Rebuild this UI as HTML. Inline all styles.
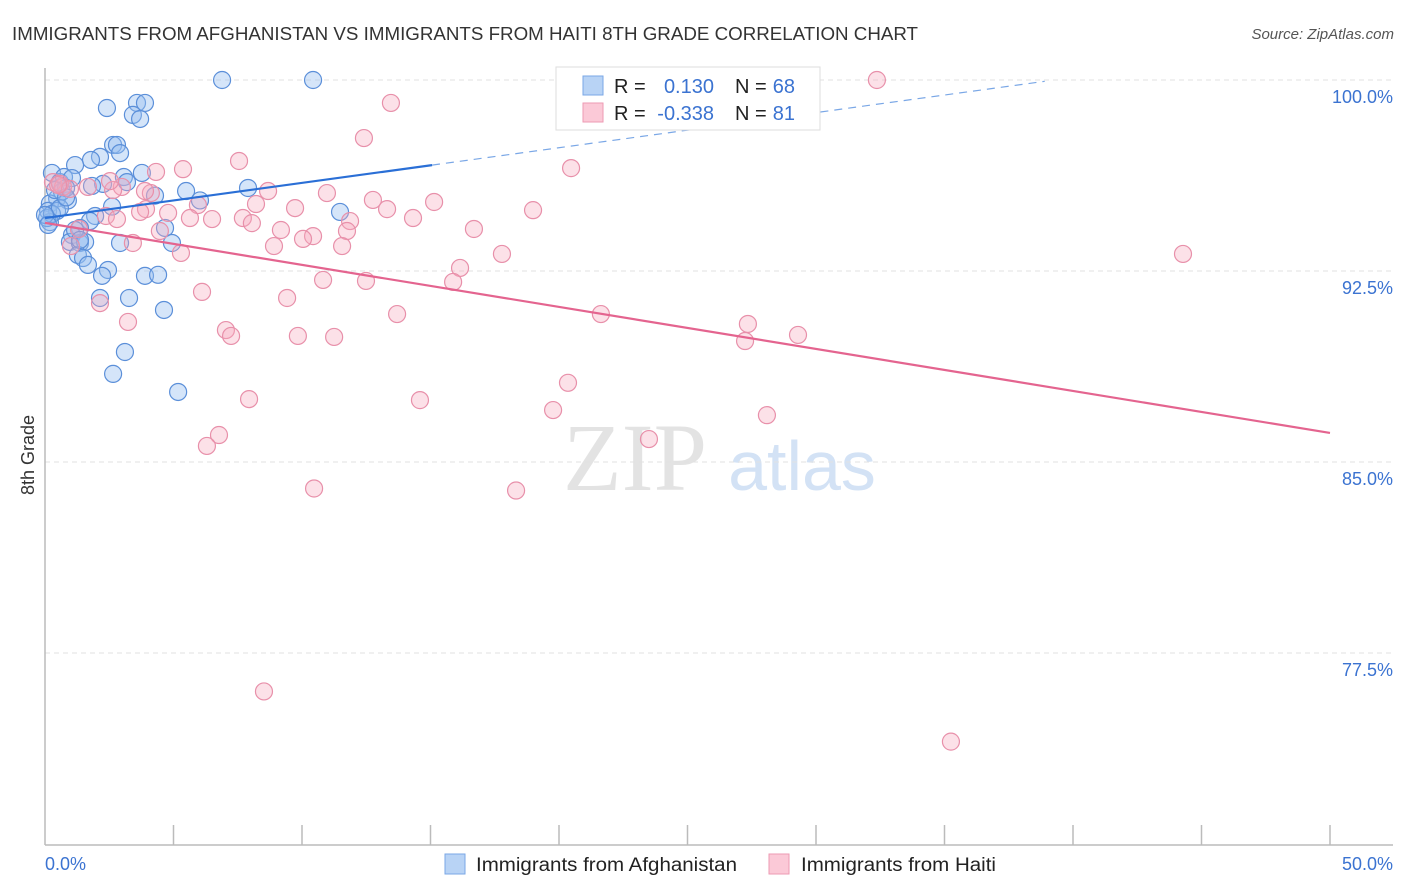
<!DOCTYPE html>
<html><head><meta charset="utf-8"><style>
body{margin:0;background:#fff;font-family:"Liberation Sans",sans-serif}
#wrap{position:relative;width:1406px;height:892px;overflow:hidden}
</style></head><body>
<div id="wrap">
<svg id="svg" width="1406" height="892" xmlns="http://www.w3.org/2000/svg">
<text x="12" y="40" font-size="18" fill="#333" textLength="906" lengthAdjust="spacingAndGlyphs">IMMIGRANTS FROM AFGHANISTAN VS IMMIGRANTS FROM HAITI 8TH GRADE CORRELATION CHART</text>
<text x="1394" y="39" font-size="15" fill="#555" text-anchor="end" font-style="italic">Source: ZipAtlas.com</text>
<text x="34" y="455" font-size="18" fill="#333" text-anchor="middle" transform="rotate(-90 34 455)">8th Grade</text>
<g><text x="635" y="490" font-size="96" fill="#ddd" text-anchor="middle" font-family="Liberation Serif,serif" opacity="0.8">ZIP</text><text x="802" y="490" font-size="70" fill="#c9dcf3" text-anchor="middle" opacity="0.8">atlas</text></g>
<g id="grid"></g><g id="axes"></g><g id="pts"></g><g id="lines"></g>
<g>
<rect x="556" y="67" width="264" height="63" fill="#fff" stroke="#ddd"/>
<rect x="583" y="76" width="20" height="19" fill="#b8d3f5" stroke="#7aa7e6"/>
<rect x="583" y="103" width="20" height="19" fill="#fbc9d7" stroke="#ee9ab3"/>
<text x="614" y="93" font-size="20" fill="#222">R =</text>
<text x="714" y="93" font-size="20" fill="#3b73d1" text-anchor="end">0.130</text>
<text x="735" y="93" font-size="20" fill="#222">N =</text>
<text x="795" y="93" font-size="20" fill="#3b73d1" text-anchor="end">68</text>
<text x="614" y="120" font-size="20" fill="#222">R =</text>
<text x="714" y="120" font-size="20" fill="#3b73d1" text-anchor="end">-0.338</text>
<text x="735" y="120" font-size="20" fill="#222">N =</text>
<text x="795" y="120" font-size="20" fill="#3b73d1" text-anchor="end">81</text>
</g>
<g>
<rect x="445" y="854" width="20" height="20" fill="#b8d3f5" stroke="#7aa7e6"/>
<text x="476" y="871" font-size="19" fill="#222" textLength="261" lengthAdjust="spacingAndGlyphs">Immigrants from Afghanistan</text>
<rect x="769" y="854" width="20" height="20" fill="#fbc9d7" stroke="#ee9ab3"/>
<text x="801" y="871" font-size="19" fill="#222" textLength="195" lengthAdjust="spacingAndGlyphs">Immigrants from Haiti</text>
</g>
</svg></div>
<script>
const yTicks=[100,92.5,85,77.5];
const yTickLabels=["100.0%","92.5%","85.0%","77.5%"];
const xTickLabels=["0.0%","50.0%"];
const afgX=[6.89,10.43,2.41,3.58,3.89,3.42,3.70,2.65,2.80,2.92,2.14,1.79,1.17,0.27,0.58,0.74,1.05,3.07,3.77,3.19,2.26,5.49,7.90,4.28,6.03,0.47,0.89,0.19,2.61,0.12,0.47,1.95,11.48,1.75,0.19,1.36,4.67,1.05,0.97,1.36,1.56,2.92,4.94,1.28,1.48,1.67,2.45,2.22,3.89,4.40,2.14,3.27,4.63,3.11,2.65,5.18,0.08,0.66,0.82,0.39,1.17,0.27,0.58,0.00,0.12,0.82,1.36,1.83];
const afgY=[100,100,98.90,99.10,99.10,98.63,98.47,97.45,97.45,97.13,96.98,96.86,96.66,96.35,95.99,96.19,96.15,96.19,96.35,95.99,95.92,95.64,95.76,95.46,95.27,95.35,95.27,95.15,95.03,94.86,94.86,94.66,94.82,94.46,94.42,94.19,94.19,93.91,93.64,93.60,93.64,93.60,93.60,93.13,93.01,92.74,92.54,92.31,92.31,92.35,91.44,91.44,90.97,89.32,88.46,87.75,94.58,95.62,95.76,95.68,94.11,94.74,94.97,94.70,94.31,95.39,93.72,95.84];
const haiX=[32.37,13.46,12.41,20.47,7.55,5.37,4.32,0.31,0.70,1.67,2.99,2.65,4.12,8.68,10.97,12.76,15.14,13.31,9.73,18.99,14.32,11.87,8.21,5.95,3.93,3.70,4.79,5.64,6.50,7.70,8.05,2.37,2.80,9.18,10.43,10.04,11.75,16.69,4.47,1.32,3.42,8.91,11.56,5.29,1.01,17.78,16.15,15.88,10.82,12.49,44.28,6.11,9.42,2.14,3.23,7.04,7.24,9.84,11.25,13.70,21.63,27.35,27.24,29.30,20.35,7.94,14.59,19.77,28.09,6.77,6.30,23.50,10.47,18.33,8.52,35.25,0.58,0.97,2.53,3.89,0.51];
const haiY=[100,99.10,97.72,96.54,96.82,96.50,96.39,95.99,95.80,95.80,95.80,95.68,95.56,95.64,95.56,95.29,95.21,94.93,94.97,94.89,94.58,94.46,95.13,95.09,94.93,94.82,94.78,94.58,94.54,94.58,94.38,94.66,94.54,94.11,93.87,93.76,94.07,94.15,94.07,94.15,93.60,93.48,93.48,93.21,93.48,93.17,92.62,92.07,92.15,92.11,93.17,91.68,91.44,91.24,90.50,90.18,89.95,89.95,89.91,90.81,90.81,90.42,89.75,89.99,88.11,87.47,87.43,87.04,86.84,86.06,85.63,85.90,83.96,83.88,75.99,74.02,95.92,95.72,96.03,95.64,95.88];
const afgFit=[94.58,0.138];
const haiFit=[94.39,-0.165];
const X=v=>45+v/50*1285, Y=v=>80+(100-v)/7.5*191;
const NS="http://www.w3.org/2000/svg";
function mk(t,a,p){const e=document.createElementNS(NS,t);for(const k in a)e.setAttribute(k,a[k]);p.appendChild(e);return e;}
const grid=document.getElementById('grid'),axes=document.getElementById('axes'),pts=document.getElementById('pts'),lines=document.getElementById('lines');
yTicks.forEach((t,i)=>{
 const g=mk('line',{x1:45,x2:1393,y1:Y(t),y2:Y(t),stroke:'#e2e2e2','stroke-dasharray':'5,4'},grid);
 
 
 const l=mk('text',{x:1393,y:Y(t)+23,'font-size':18,fill:'#3b73d1','text-anchor':'end'},axes);l.textContent=yTickLabels[i];
 
 
});
const ax=mk('line',{x1:45,x2:1393,y1:845,y2:845,stroke:'#bbb','stroke-width':1.5},axes);


const ay=mk('line',{x1:45,x2:45,y1:68,y2:845,stroke:'#bbb','stroke-width':1.5},axes);


for(let k=1;k<=10;k++){const t=mk('line',{x1:X(k*5),x2:X(k*5),y1:825,y2:845,stroke:'#bbb','stroke-width':1.5},axes);
 
 }
[[0,'start'],[50,'end']].forEach((p,i)=>{const l=mk('text',{x:i?1393:45,y:870,'font-size':18,fill:'#3b73d1','text-anchor':p[1]},axes);l.textContent=xTickLabels[i];
 
 });
afgX.forEach((x,i)=>{const c=mk('circle',{cx:X(x),cy:Y(afgY[i]),r:8.5,fill:'rgba(150,190,240,0.4)',stroke:'#5b8fd9','stroke-width':1.2},pts);
 
 });
haiX.forEach((x,i)=>{const c=mk('circle',{cx:X(x),cy:Y(haiY[i]),r:8.5,fill:'rgba(245,170,190,0.35)',stroke:'#e890aa','stroke-width':1.2},pts);
 
 });
const fa=x=>afgFit[0]+afgFit[1]*x, fh=x=>haiFit[0]+haiFit[1]*x;
const l1=mk('line',{x1:X(0),y1:Y(fa(0)),x2:X(15.06),y2:Y(fa(15.06)),stroke:'#2a6fd6','stroke-width':2.2},lines);


const l2=mk('line',{x1:X(15.06),y1:Y(fa(15.06)),x2:X(38.9),y2:Y(fa(38.9)),stroke:'#7aa7e6','stroke-width':1.2,'stroke-dasharray':'8,6'},lines);


const l3=mk('line',{x1:X(0),y1:Y(fh(0)),x2:X(50),y2:Y(fh(50)),stroke:'#e4648f','stroke-width':2.2},lines);


</script></body></html>
